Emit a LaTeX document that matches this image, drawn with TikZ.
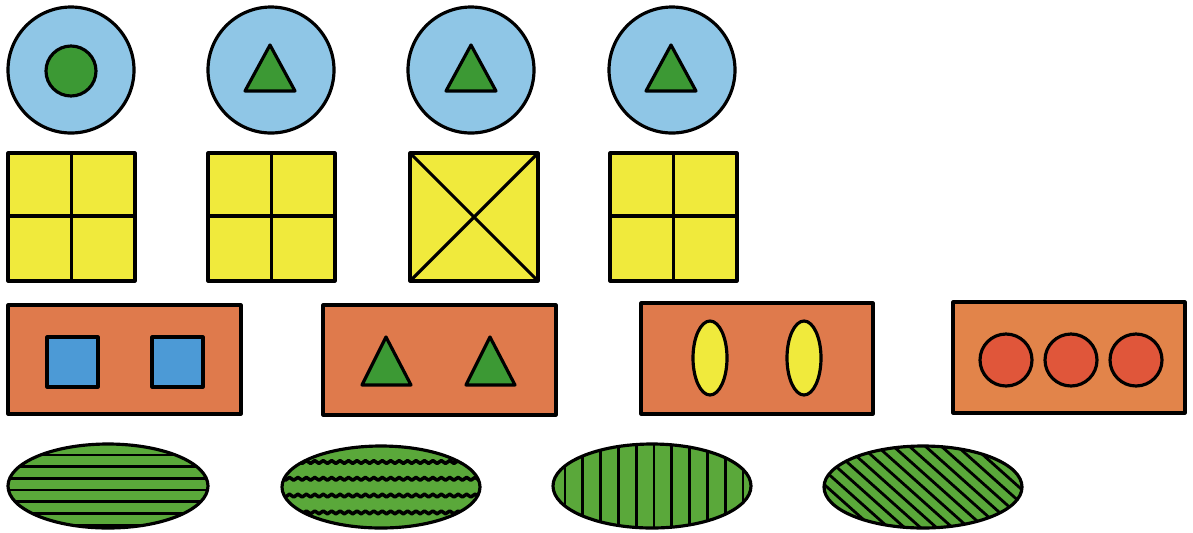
\documentclass[tikz,border=0pt]{standalone}
\usepackage{xcolor}
\usepackage{tikz}
\usetikzlibrary{decorations.pathmorphing}
\definecolor{cSky}{HTML}{8FC6E6}
\definecolor{cLeaf}{HTML}{3C9934}
\definecolor{cLemon}{HTML}{F0EA3C}
\definecolor{cBrick}{HTML}{DF7A4C}
\definecolor{cBrickB}{HTML}{E2844A}
\definecolor{cAzure}{HTML}{4C9AD6}
\definecolor{cTomato}{HTML}{E0563A}
\definecolor{cMelon}{HTML}{5AA83A}
\tikzset{
  outline/.style={draw=black, line width=1.8pt, line join=round},
  stripe/.style ={draw=black, line width=1.6pt},
  wave/.style   ={stripe, line width=2pt, line join=round, decorate,
                  decoration={snake, segment length=4.8pt, amplitude=0.8pt}},
}

\begin{document}
\begin{tikzpicture}[x=0.02cm, y=-0.02cm]
    \useasboundingbox (0,0) rectangle (1193,532);
    % row 1: circles
    \foreach \cx in {71,271,471,672}
      \filldraw[outline, fill=cSky] (\cx,70) circle[radius=63];
    \filldraw[outline, fill=cLeaf] (71,71) circle[radius=25];
    \foreach \cx in {270,471,671}
      \filldraw[outline, fill=cLeaf] (\cx,45) -- (\cx+25,91) -- (\cx-25,91) -- cycle;
    % row 2: squares
    \foreach \sx in {8,208,610}{
      \filldraw[outline, fill=cLemon] (\sx,153) rectangle (\sx+127,281);
      \draw[outline] (\sx+63.5,153) -- (\sx+63.5,281) (\sx,216) -- (\sx+127,216);
    }
    \filldraw[outline, fill=cLemon] (410,153) rectangle (538,281);
    \draw[outline] (410,153) -- (538,281) (410,281) -- (538,153);
    % row 3: rectangles
    \filldraw[outline, fill=cBrick] (8,305) rectangle (241,414);
    \filldraw[outline, fill=cBrick] (323,305) rectangle (556,415);
    \filldraw[outline, fill=cBrick] (641,303) rectangle (873,414);
    \filldraw[outline, fill=cBrickB] (953,302) rectangle (1185,413);
    \foreach \sx in {47,152}
      \filldraw[outline, fill=cAzure] (\sx,337) rectangle (\sx+51,387);
    \foreach \cx in {386,490}
      \filldraw[outline, fill=cLeaf] (\cx,337) -- (\cx+25,385) -- (\cx-24,385) -- cycle;
    \foreach \cx in {710,804}
      \filldraw[outline, fill=cLemon] (\cx,358) ellipse[x radius=17, y radius=37];
    \foreach \cx in {1006,1071,1136}
      \filldraw[outline, fill=cTomato] (\cx,360) circle[radius=26];
    % row 4: striped ellipses
    \begin{scope}
      \clip (108,486) ellipse[x radius=100, y radius=42];
      \fill[cMelon] (108,486) ellipse[x radius=100, y radius=42];
      \foreach \k in {-3,...,3}
        \draw[stripe] (0,490+\k*11.7) -- (220,490+\k*11.7);
    \end{scope}
    \draw[outline] (108,486) ellipse[x radius=100, y radius=42];
    \begin{scope}
      \clip (381,487) ellipse[x radius=99, y radius=41];
      \fill[cMelon] (381,487) ellipse[x radius=99, y radius=41];
      \foreach \k in {0,...,3}
        \draw[wave] (270,462+\k*16.8) -- (495,462+\k*16.8);
    \end{scope}
    \draw[outline] (381,487) ellipse[x radius=99, y radius=41];
    \begin{scope}
      \clip (652,486) ellipse[x radius=99, y radius=42];
      \fill[cMelon] (652,486) ellipse[x radius=99, y radius=42];
      \foreach \k in {0,...,10}
        \draw[stripe] (565+\k*17.8,440) -- (565+\k*17.8,532);
    \end{scope}
    \draw[outline] (652,486) ellipse[x radius=99, y radius=42];
    \begin{scope}
      \clip (923,487) ellipse[x radius=99, y radius=41];
      \fill[cMelon] (923,487) ellipse[x radius=99, y radius=41];
      \foreach \k in {-9,...,9}
        \draw[stripe] (923+\k*16-56,437) -- (923+\k*16+56,537);
    \end{scope}
    \draw[outline] (923,487) ellipse[x radius=99, y radius=41];
\end{tikzpicture}
\end{document}
